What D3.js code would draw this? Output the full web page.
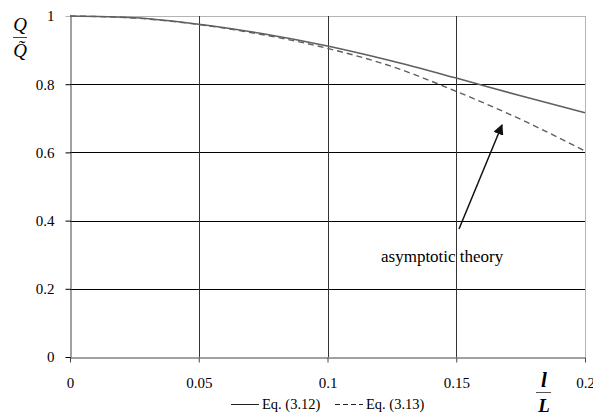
<!DOCTYPE html>
<html>
<head>
<meta charset="utf-8">
<script src="https://cdn.jsdelivr.net/npm/d3@7"></script>
<style>
  body { margin: 0; background: #fff; }
  svg text { font-family: "Liberation Serif", Tinos, "DejaVu Serif", "Times New Roman", Times, serif; }
</style>
</head>
<body>
<svg id="chart" width="593" height="420"></svg>
<script>
// values
const lRatio   = [0, 0.025, 0.05, 0.075, 0.1, 0.125, 0.15, 0.175, 0.2];
const eq312    = [1, 0.995, 0.976, 0.948, 0.912, 0.868, 0.818, 0.766, 0.716];
const eq313    = [1, 0.994, 0.975, 0.945, 0.905, 0.852, 0.779, 0.697, 0.604];
const xTicks   = [0, 0.05, 0.1, 0.15, 0.2];
const yTicks   = [0, 0.2, 0.4, 0.6, 0.8, 1];
const seriesNames = ['Eq. (3.12)', 'Eq. (3.13)'];

const serif = '"Liberation Serif", Tinos, "DejaVu Serif", "Times New Roman", Times, serif';
const svg = d3.select('#chart');
const x = d3.scaleLinear().domain([0, 0.2]).range([70, 585]);
const y = d3.scaleLinear().domain([0, 1]).range([357, 16]);

///// grid /////
let grid = svg.append('g').classed('grid', true);
grid.selectAll('.hgrid').data(yTicks.filter(d => d > 0)).enter().append('line')
  .attr('x1', x(0)).attr('x2', x(0.2))
  .attr('y1', d => Math.round(y(d)) + 0.5).attr('y2', d => Math.round(y(d)) + 0.5)
  .attr('stroke', d => d === 1 ? '#b4b4b4' : '#000').attr('stroke-width', 1);
grid.selectAll('.vgrid').data(xTicks.filter(d => d > 0)).enter().append('line')
  .attr('y1', y(0)).attr('y2', y(1))
  .attr('x1', d => Math.round(x(d)) + 0.5).attr('x2', d => Math.round(x(d)) + 0.5)
  .attr('stroke', d => d === 0.2 ? '#b4b4b4' : '#333').attr('stroke-width', 1);

///// axes /////
let xAxis = svg.append('g').attr('transform', 'translate(0,' + (Math.round(y(0)) + 0.5) + ')')
  .call(d3.axisBottom(x).tickValues(xTicks).tickFormat(d3.format('')).tickSizeInner(5).tickSizeOuter(0).tickPadding(10));
xAxis.attr('font-family', serif).attr('font-size', 15);
xAxis.selectAll('line, path').attr('stroke', '#444');
xAxis.selectAll('.tick text').attr('fill', '#000').attr('dy', '1.05em');

let yAxis = svg.append('g').attr('transform', 'translate(' + (x(0) + 0.5) + ',0)')
  .call(d3.axisLeft(y).tickValues(yTicks).tickFormat(d3.format('')).tickSizeInner(5).tickSizeOuter(0).tickPadding(11));
yAxis.attr('font-family', serif).attr('font-size', 15);
yAxis.selectAll('line, path').attr('stroke', '#444');
yAxis.selectAll('.tick line').attr('stroke', (d) => d === 1 ? '#b4b4b4' : '#000');
yAxis.selectAll('.tick text').attr('fill', '#000').attr('dy', '0.32em');

///// curves /////
const lineGen = d3.line().x(d => x(d[0])).y(d => y(d[1])).curve(d3.curveMonotoneX);
svg.append('path').datum(lRatio.map((v, i) => [v, eq312[i]]))
  .attr('d', lineGen).attr('fill', 'none').attr('stroke', '#5f5f5f').attr('stroke-width', 1.6);
svg.append('path').datum(lRatio.map((v, i) => [v, eq313[i]]))
  .attr('d', lineGen).attr('fill', 'none').attr('stroke', '#5f5f5f').attr('stroke-width', 1.4)
  .attr('stroke-dasharray', '6,4');

///// annotation /////
svg.append('defs').append('marker').attr('id', 'arrowhead')
  .attr('viewBox', '0 0 10 10').attr('refX', 9).attr('refY', 5)
  .attr('markerWidth', 7).attr('markerHeight', 7).attr('orient', 'auto')
  .append('path').attr('d', 'M0,0L10,5L0,10z').attr('fill', '#111');
svg.append('line').attr('x1', 459).attr('y1', 229).attr('x2', 502).attr('y2', 125)
  .attr('stroke', '#111').attr('stroke-width', 1.5).attr('marker-end', 'url(#arrowhead)');
svg.append('text').text('asymptotic theory').attr('x', 381).attr('y', 262)
  .style('font-size', '17px');

///// axis titles (fractions) /////
let yt = svg.append('g').attr('transform', 'translate(20,0)');
yt.append('text').text('Q').attr('x', 0).attr('y', 31).attr('text-anchor', 'middle')
  .style('font-style', 'italic').style('font-size', '19px');
yt.append('line').attr('x1', -7).attr('x2', 7).attr('y1', 37.5).attr('y2', 37.5).attr('stroke', '#444');
yt.append('text').text('Q̃').attr('x', 0).attr('y', 57).attr('text-anchor', 'middle')
  .style('font-style', 'italic').style('font-size', '19px');

let xt = svg.append('g').attr('transform', 'translate(544,0)');
xt.append('text').text('l').attr('x', 0).attr('y', 387).attr('text-anchor', 'middle')
  .style('font-style', 'italic').style('font-weight', 'bold').style('font-size', '21px');
xt.append('line').attr('x1', -8).attr('x2', 7).attr('y1', 392.5).attr('y2', 392.5).attr('stroke', '#555');
xt.append('text').text('L').attr('x', 0).attr('y', 412).attr('text-anchor', 'middle')
  .style('font-style', 'italic').style('font-weight', 'bold').style('font-size', '19px');

///// legend /////
let legend = svg.append('g').classed('legend', true);
let items = legend.selectAll('g').data(seriesNames).enter().append('g')
  .attr('transform', (d, i) => 'translate(' + (231 + i * 104) + ',409)');
items.append('line').attr('x1', 0).attr('x2', 28).attr('y1', -4.5).attr('y2', -4.5)
  .attr('stroke', '#222').attr('stroke-width', 1)
  .attr('stroke-dasharray', (d, i) => i === 1 ? '5,3' : null);
items.append('text').text(d => d).attr('x', 31).attr('y', 0).style('font-size', '14.5px');
</script>
</body>
</html>
